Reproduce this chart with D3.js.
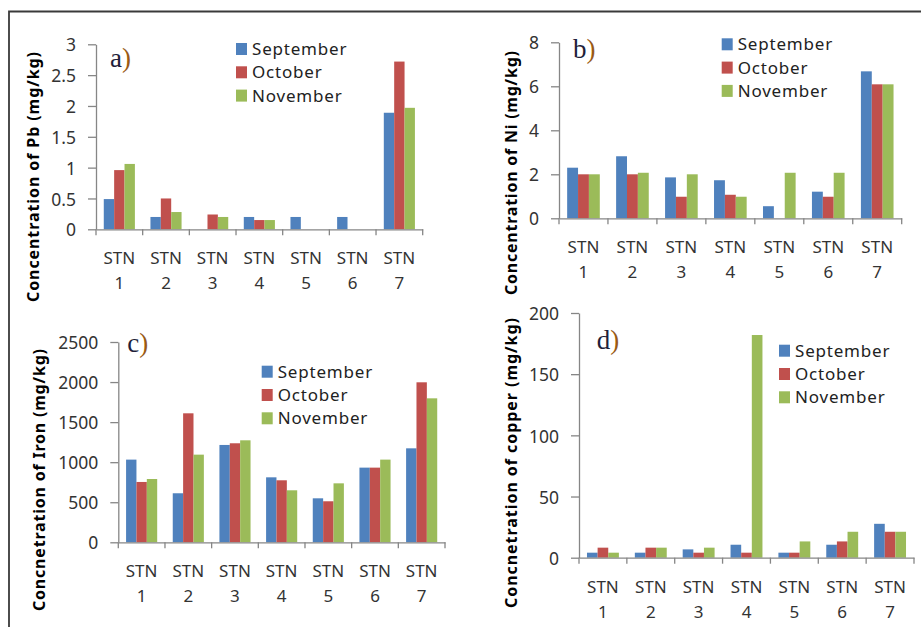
<!DOCTYPE html>
<html>
<head>
<meta charset="utf-8">
<script src="https://cdn.jsdelivr.net/npm/d3@7"></script>
<style>
  html, body { margin: 0; padding: 0; background: #fff; }
  svg { display: block; }
</style>
</head>
<body>
<svg id="chart" width="921" height="627"></svg>
<script>
// ---------------- DATA ----------------
const stations = ["1", "2", "3", "4", "5", "6", "7"];
const months = ["September", "October", "November"];

// Pb (mg/kg), per month across STN 1..7
const pbSeptember = [0.49, 0.20, 0.00, 0.20, 0.20, 0.20, 1.89];
const pbOctober   = [0.96, 0.50, 0.24, 0.15, 0.00, 0.00, 2.72];
const pbNovember  = [1.06, 0.28, 0.20, 0.15, 0.00, 0.00, 1.97];
const pbTicks = [0, 0.5, 1, 1.5, 2, 2.5, 3];

// Ni (mg/kg)
const niSeptember = [2.30, 2.82, 1.86, 1.73, 0.55, 1.21, 6.68];
const niOctober   = [2.00, 2.00, 0.98, 1.07, 0.00, 0.98, 6.09];
const niNovember  = [2.00, 2.07, 2.00, 0.98, 2.07, 2.07, 6.09];
const niTicks = [0, 2, 4, 6, 8];

// Iron (mg/kg)
const feSeptember = [1032, 612, 1215, 811, 549, 932, 1173];
const feOctober   = [753, 1610, 1236, 774, 512, 932, 1997];
const feNovember  = [790, 1094, 1273, 649, 736, 1032, 1797];
const feTicks = [0, 500, 1000, 1500, 2000, 2500];

// Copper (mg/kg)
const cuSeptember = [4.1, 4.1, 6.8, 10.6, 4.1, 10.6, 27.7];
const cuOctober   = [8.2, 8.2, 4.1, 4.1, 4.1, 13.3, 21.2];
const cuNovember  = [4.1, 8.2, 8.2, 182, 13.3, 21.2, 21.2];
const cuTicks = [0, 50, 100, 150, 200];

const seriesColors = ["#4F81BD", "#C0504D", "#9BBB59"];

// ---------------- LAYOUT ----------------
const panels = [
  { label: "a", title: "Concentration of Pb (mg/kg)", series: [pbSeptember, pbOctober, pbNovember], ticks: pbTicks,
    x0: 96, x1: 422.7, yTop: 44.3, yBot: 229.3, titleX: 33, titleY: 177, titleLen: 250,
    labX: 110, labY: 66.7, legX: 236, legY: 49 },
  { label: "b", title: "Concentration of Ni (mg/kg)", series: [niSeptember, niOctober, niNovember], ticks: niTicks,
    x0: 559, x1: 901.7, yTop: 42.3, yBot: 218.3, titleX: 511, titleY: 173, titleLen: 244,
    labX: 573, labY: 58.3, legX: 721.7, legY: 44.3 },
  { label: "c", title: "Concnetration of Iron  (mg/kg)", series: [feSeptember, feOctober, feNovember], ticks: feTicks,
    x0: 118.3, x1: 445, yTop: 342, yBot: 542.3, titleX: 39, titleY: 480, titleLen: 262,
    labX: 127.3, labY: 351.7, legX: 261.7, legY: 371.7 },
  { label: "d", title: "Concnetration of copper  (mg/kg)", series: [cuSeptember, cuOctober, cuNovember], ticks: cuTicks,
    x0: 579, x1: 914, yTop: 313, yBot: 557.7, titleX: 511, titleY: 463, titleLen: 290,
    labX: 596.7, labY: 349, legX: 779, legY: 350.7 }
];

const svg = d3.select("#chart");
const FONT = "'Noto Sans', 'Open Sans', sans-serif";

// outer frame (top & left)
svg.append("path")
  .attr("d", "M9,627 V11.5 H921")
  .attr("fill", "none").attr("stroke", "#3a3a3a").attr("stroke-width", 1.8);

panels.forEach(p => {
  const g = svg.append("g");
  const x = d3.scaleBand().domain(stations).range([p.x0, p.x1]).paddingInner(0).paddingOuter(0);
  const xm = d3.scaleBand().domain(months).range([0, x.bandwidth()]).paddingInner(0).paddingOuter(0.75);
  const y = d3.scaleLinear().domain([p.ticks[0], p.ticks[p.ticks.length - 1]]).range([p.yBot, p.yTop]);

  // bars
  months.forEach((m, mi) => {
    g.append("g").selectAll("rect").data(p.series[mi]).join("rect")
      .attr("x", (d, i) => x(stations[i]) + xm(m))
      .attr("width", xm.bandwidth())
      .attr("y", d => y(d))
      .attr("height", d => y(0) - y(d))
      .attr("fill", seriesColors[mi]);
  });

  // y axis
  const ya = g.append("g").attr("transform", `translate(${p.x0},0)`)
    .call(d3.axisLeft(y).tickValues(p.ticks).tickSize(8).tickSizeOuter(0).tickPadding(12)
      .tickFormat(d => String(d)));
  ya.select(".domain").attr("stroke", "#868686").attr("stroke-width", 1.3);
  ya.selectAll(".tick line").attr("stroke", "#868686").attr("stroke-width", 1.3);
  ya.selectAll(".tick text").attr("font-family", FONT).attr("font-size", 17.5).attr("fill", "#333")
    .attr("dy", "0.38em");

  // x axis
  const xa = g.append("g").attr("transform", `translate(0,${p.yBot})`)
    .call(d3.axisBottom(x).tickSize(0).tickSizeOuter(0).tickPadding(0).tickFormat(() => ""));
  xa.select(".domain").attr("stroke", "#868686").attr("stroke-width", 1.3);
  const bounds = stations.map(s => x(s)).concat([p.x1]);
  xa.selectAll("line.bnd").data(bounds).join("line").attr("class", "bnd")
    .attr("x1", d => d).attr("x2", d => d).attr("y1", 0).attr("y2", 6)
    .attr("stroke", "#868686").attr("stroke-width", 1.3);
  xa.selectAll(".tick text").each(function(d) {
    const t = d3.select(this).text(null)
      .attr("font-family", FONT).attr("font-size", 17).attr("fill", "#333")
      .attr("y", 0).attr("dy", null);
    t.append("tspan").attr("x", 0).attr("y", 35).text("STN");
    t.append("tspan").attr("x", 0).attr("y", 60).text(d);
  });

  // y title
  g.append("text")
    .attr("transform", `translate(${p.titleX},${p.titleY}) rotate(-90)`)
    .attr("text-anchor", "middle").attr("dominant-baseline", "central")
    .attr("font-family", FONT).attr("font-weight", "bold").attr("font-size", 16)
    .attr("textLength", p.titleLen).attr("lengthAdjust", "spacing")
    .attr("fill", "#000").text(p.title);

  // panel label
  const lab = g.append("text").attr("x", p.labX).attr("y", p.labY)
    .attr("font-family", "'Liberation Serif', 'DejaVu Serif', serif").attr("font-size", 27).attr("fill", "#1f1f3a");
  lab.append("tspan").text(p.label);
  lab.append("tspan").attr("fill", "#9a5a14").text(")");

  // legend
  const lg = g.append("g");
  months.forEach((m, mi) => {
    const cy = p.legY + mi * 23.3;
    lg.append("rect").attr("x", p.legX).attr("y", cy - 6).attr("width", 11).attr("height", 12)
      .attr("fill", seriesColors[mi]);
    lg.append("text").attr("x", p.legX + 16).attr("y", cy).attr("dy", "0.36em")
      .attr("font-family", FONT).attr("font-size", 17).attr("letter-spacing", 0.8)
      .attr("fill", "#222").text(m);
  });
});
</script>
</body>
</html>
